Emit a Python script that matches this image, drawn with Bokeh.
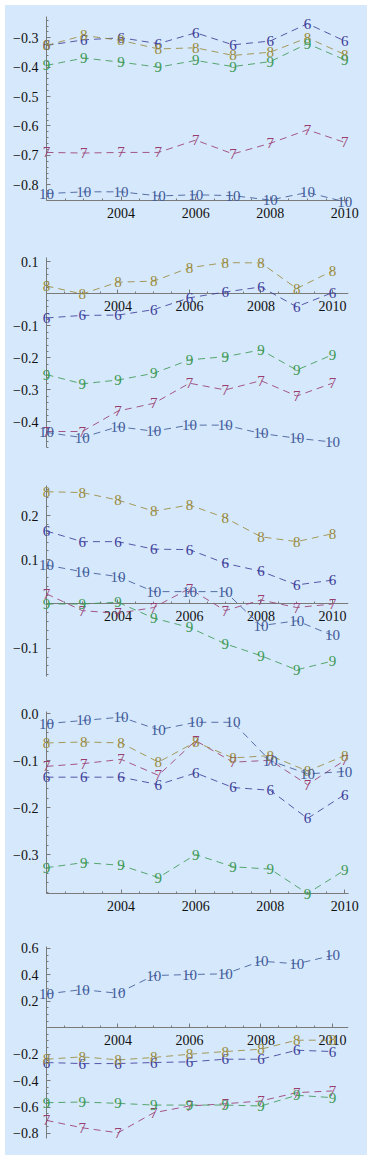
import numpy as np
from bokeh.plotting import figure
from bokeh.layouts import column
from bokeh.models import FixedTicker, CustomJSTickFormatter, Range1d
from bokeh.core.properties import value
from bokeh.embed import file_html
from bokeh.resources import INLINE

years = [2002, 2003, 2004, 2005, 2006, 2007, 2008, 2009, 2010]
series_names = ["6", "7", "8", "9", "10"]
series_colors = ["#3d3d99", "#993d71", "#998b3d", "#3d9955", "#3d5999"]
x_major = [2004, 2006, 2008, 2010]

# Panel 1
p1_s6 = [-0.326, -0.307, -0.300, -0.320, -0.283, -0.324, -0.311, -0.252, -0.311]
p1_s7 = [-0.690, -0.692, -0.690, -0.690, -0.648, -0.695, -0.659, -0.613, -0.656]
p1_s8 = [-0.326, -0.292, -0.309, -0.338, -0.334, -0.360, -0.349, -0.300, -0.357]
p1_s9 = [-0.394, -0.369, -0.383, -0.400, -0.377, -0.398, -0.381, -0.320, -0.375]
p1_s10 = [-0.830, -0.824, -0.824, -0.838, -0.834, -0.837, -0.852, -0.826, -0.858]
p1_yticks = [-0.8, -0.7, -0.6, -0.5, -0.4, -0.3]

# Panel 2
p2_s6 = [-0.075, -0.067, -0.066, -0.049, -0.012, 0.006, 0.022, -0.040, 0.004]
p2_s7 = [-0.430, -0.430, -0.366, -0.342, -0.279, -0.300, -0.271, -0.319, -0.279]
p2_s8 = [0.025, 0.000, 0.037, 0.040, 0.082, 0.098, 0.097, 0.017, 0.072]
p2_s9 = [-0.252, -0.281, -0.269, -0.248, -0.206, -0.196, -0.175, -0.238, -0.190]
p2_s10 = [-0.433, -0.449, -0.415, -0.429, -0.410, -0.410, -0.436, -0.451, -0.463]
p2_yticks = [-0.4, -0.3, -0.2, -0.1, 0.1]

# Panel 3
p3_s6 = [0.165, 0.141, 0.141, 0.124, 0.123, 0.092, 0.074, 0.043, 0.054]
p3_s7 = [0.023, -0.015, -0.021, -0.008, 0.035, -0.015, 0.009, -0.008, 0.000]
p3_s8 = [0.254, 0.252, 0.235, 0.210, 0.224, 0.195, 0.152, 0.141, 0.159]
p3_s9 = [0.000, 0.000, 0.004, -0.032, -0.053, -0.090, -0.117, -0.149, -0.129]
p3_s10 = [0.088, 0.073, 0.062, 0.028, 0.028, 0.028, -0.049, -0.038, -0.071]
p3_yticks = [-0.1, 0.1, 0.2]

# Panel 4
p4_s6 = [-0.135, -0.135, -0.135, -0.151, -0.126, -0.157, -0.163, -0.223, -0.172]
p4_s7 = [-0.112, -0.106, -0.097, -0.131, -0.057, -0.103, -0.099, -0.151, -0.099]
p4_s8 = [-0.062, -0.060, -0.062, -0.103, -0.060, -0.094, -0.089, -0.122, -0.089]
p4_s9 = [-0.328, -0.317, -0.323, -0.349, -0.300, -0.326, -0.331, -0.383, -0.333]
p4_s10 = [-0.021, -0.014, -0.007, -0.034, -0.018, -0.018, -0.100, -0.128, -0.123]
p4_yticks = [-0.3, -0.2, -0.1, 0.0]

# Panel 5
p5_s6 = [-0.263, -0.271, -0.271, -0.263, -0.258, -0.238, -0.238, -0.170, -0.180]
p5_s7 = [-0.701, -0.757, -0.795, -0.643, -0.592, -0.575, -0.554, -0.491, -0.478]
p5_s8 = [-0.238, -0.220, -0.243, -0.225, -0.200, -0.180, -0.162, -0.094, -0.094]
p5_s9 = [-0.567, -0.562, -0.572, -0.585, -0.585, -0.585, -0.592, -0.511, -0.529]
p5_s10 = [0.256, 0.289, 0.261, 0.395, 0.403, 0.408, 0.504, 0.484, 0.547]
p5_yticks = [-0.8, -0.6, -0.4, -0.2, 0.2, 0.4, 0.6]

BG = "#d6e8fb"
AXC = "#7a7a7a"
FONT = "Liberation Serif"

# (series, yrange, yticks, minor step, height, border top, border bottom, x axis at zero)
panels = [
    ([p1_s6, p1_s7, p1_s8, p1_s9, p1_s10], (-0.8535, -0.2276), p1_yticks, 0.02, 235, 11, 40, False),
    ([p2_s6, p2_s7, p2_s8, p2_s9, p2_s10], (-0.480, 0.114), p2_yticks, 0.02, 230, 17, 23, True),
    ([p3_s6, p3_s7, p3_s8, p3_s9, p3_s10], (-0.164, 0.268), p3_yticks, 0.02, 230, 15, 24, True),
    ([p4_s6, p4_s7, p4_s8, p4_s9, p4_s10], (-0.383, 0.005), p4_yticks, 0.02, 230, 11, 37, False),
    ([p5_s6, p5_s7, p5_s8, p5_s9, p5_s10], (-0.838, 0.615), p5_yticks, 0.05, 225, 16, 17, True),
]

yfmt_code = "return tick.toFixed(1).replace('-', '\u2212');"

figs = []
for series, yr, yticks, mstep, h, bt, bb, at_zero in panels:
    x_end = 2010.45 if at_zero else 2010.1
    p = figure(width=362, height=h, output_backend="svg", toolbar_location=None,
               x_range=Range1d(2002, x_end), y_range=Range1d(yr[0], yr[1]),
               min_border_left=41, min_border_right=6 if at_zero else 19,
               min_border_top=bt, min_border_bottom=bb,
               styles={"background-color": BG})
    p.background_fill_color = BG
    p.border_fill_color = BG
    p.outline_line_color = None
    p.grid.visible = False

    minors_y = [round(v, 3) for v in np.arange(-2.0, 2.0, mstep)
                if yr[0] <= v <= yr[1]]
    p.yaxis.ticker = FixedTicker(ticks=yticks, minor_ticks=minors_y)
    p.yaxis.formatter = CustomJSTickFormatter(code=yfmt_code)
    p.xaxis.ticker = FixedTicker(ticks=x_major,
                                 minor_ticks=[2002 + 0.5 * k for k in range(17)])
    if at_zero:
        p.xaxis.fixed_location = 0
    for ax in (p.xaxis, p.yaxis):
        ax.axis_line_color = AXC
        ax.major_tick_line_color = AXC
        ax.minor_tick_line_color = AXC
        ax.major_tick_in = 4
        ax.major_tick_out = 0
        ax.minor_tick_in = 2
        ax.minor_tick_out = 0
        ax.major_label_text_font = FONT
        ax.major_label_text_font_size = "14px"
        ax.major_label_text_color = "#111111"
    p.xaxis.major_label_standoff = 7
    p.yaxis.major_label_standoff = 8

    for vals, color in zip(series, series_colors):
        r = p.line(years, vals, line_color=color, line_width=1, line_dash="7 5",
                   line_alpha=0.85)
        r.level = "annotation"
    for vals, name, color in zip(series, series_names, series_colors):
        t = p.text(x=years, y=vals, text=[name] * len(years),
                   text_font=value(FONT), text_font_size="15px",
                   text_align="center", text_baseline="middle",
                   text_color=color)
        t.level = "annotation"
    figs.append(p)

layout = column(*figs, spacing=0,
                styles={"margin": "5px 0 0 5px", "background-color": BG})
open("out.html", "w").write(file_html(layout, INLINE))
